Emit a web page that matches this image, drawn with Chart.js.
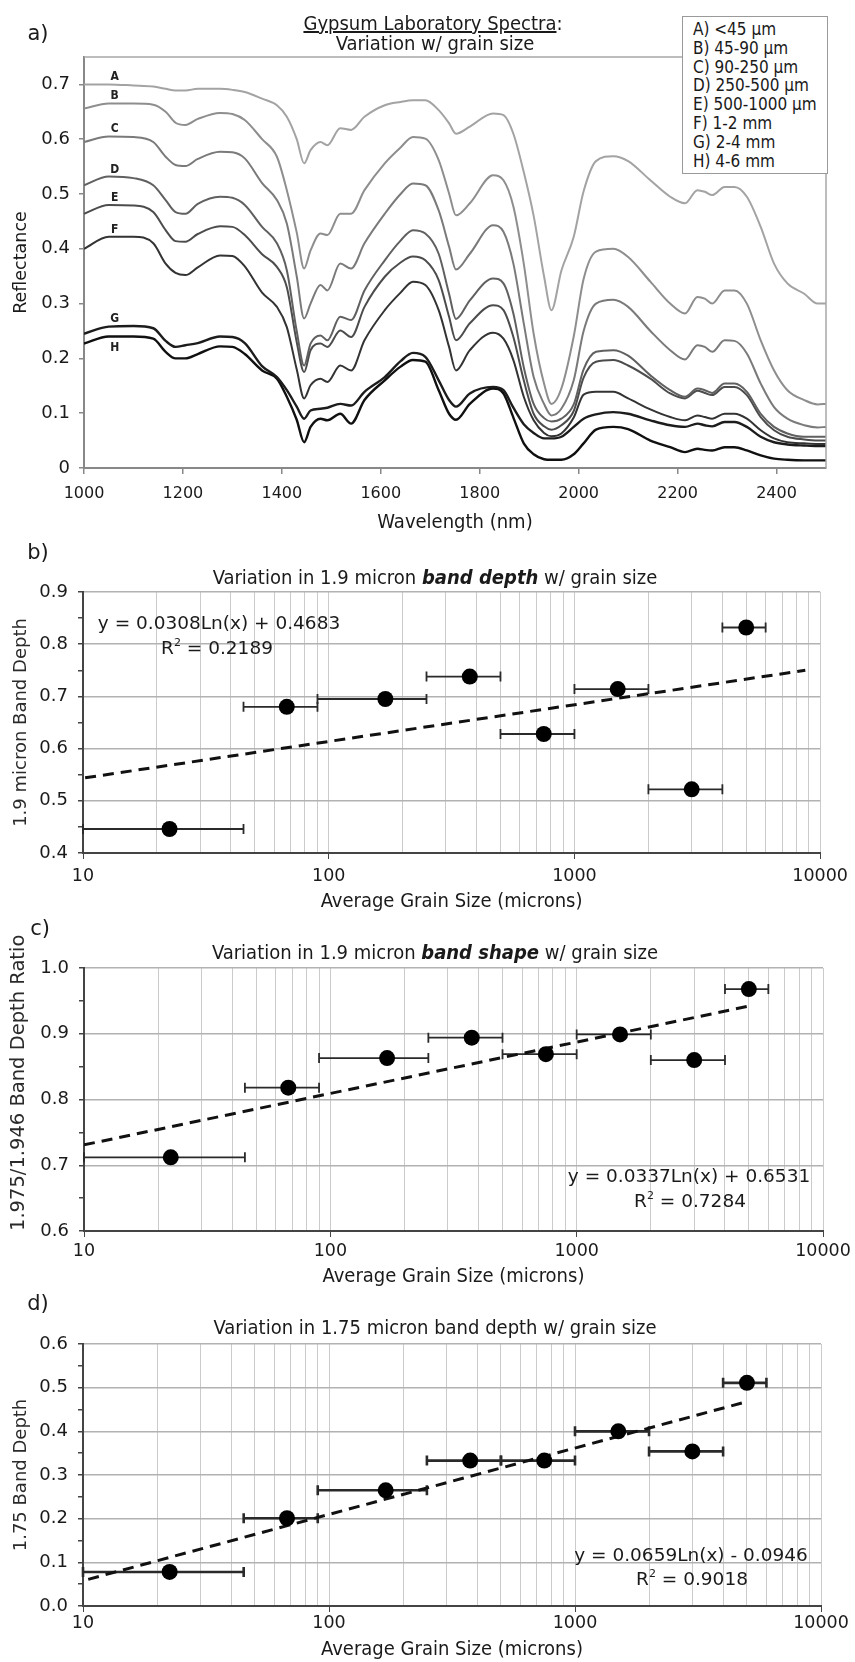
<!DOCTYPE html>
<html>
<head>
<meta charset="utf-8">
<script src="https://cdn.jsdelivr.net/npm/chart.js@4.4.1/dist/chart.umd.min.js"></script>
<style>
  body { margin: 0; background: #fff; }
  #page { position: relative; width: 855px; height: 1662px; overflow: hidden; }
  #page canvas { position: absolute; left: 0; }
  .t { position: absolute; transform: translate(-50%, -50%); white-space: nowrap; color: #1a1a1a;
       font-family: 'DejaVu Sans Condensed', 'DejaVu Sans', sans-serif; font-size: 20px; }
  .lbl { font-family: 'DejaVu Sans', sans-serif; font-size: 21px; }
  .eq { font-family: 'DejaVu Sans', sans-serif; font-size: 18.5px; }
  .eq sup { font-size: 11px; vertical-align: 8px; line-height: 0; }
  #legend { position: absolute; left: 682px; top: 16px; width: 134px; height: 153px; padding: 3px 0 0 10px;
            border: 1.5px solid #9a9a9a; background: #fff; font-family: 'DejaVu Sans Condensed', 'DejaVu Sans', sans-serif;
            font-size: 17px; line-height: 18.8px; color: #1a1a1a; }
</style>
</head>
<body>
<div id="page">
  <canvas id="chartA"></canvas>
  <canvas id="chartB"></canvas>
  <canvas id="chartC"></canvas>
  <canvas id="chartD"></canvas>

  <div class="t lbl" style="left:38px;top:33px">a)</div>
  <div class="t" style="left:433px;top:23px"><u>Gypsum Laboratory Spectra</u>:</div>
  <div class="t" style="left:435px;top:43px">Variation w/ grain size</div>
  <div id="legend"></div>

  <div class="t lbl" style="left:38px;top:552px">b)</div>
  <div class="t" style="left:435px;top:577px">Variation in 1.9 micron <b><i>band depth</i></b> w/ grain size</div>
  <div class="t eq" style="left:219px;top:622px">y = 0.0308Ln(x) + 0.4683</div>
  <div class="t eq" style="left:217px;top:647px">R<sup>2</sup> = 0.2189</div>

  <div class="t lbl" style="left:40px;top:928px">c)</div>
  <div class="t" style="left:435px;top:952px">Variation in 1.9 micron <b><i>band shape</i></b> w/ grain size</div>
  <div class="t eq" style="left:689px;top:1175px">y = 0.0337Ln(x) + 0.6531</div>
  <div class="t eq" style="left:690px;top:1200px">R<sup>2</sup> = 0.7284</div>

  <div class="t lbl" style="left:38px;top:1303px">d)</div>
  <div class="t" style="left:435px;top:1327px">Variation in 1.75 micron band depth w/ grain size</div>
  <div class="t eq" style="left:691px;top:1554px">y = 0.0659Ln(x) - 0.0946</div>
  <div class="t eq" style="left:692px;top:1578px">R<sup>2</sup> = 0.9018</div>
</div>

<script>
// ---- panel a: spectra ----
var wavelengths = [1000, 1050, 1100, 1140, 1165, 1185, 1205, 1230, 1275, 1300,
                   1325, 1360, 1390, 1410, 1430, 1445, 1458, 1478, 1492, 1518,
                   1540, 1567, 1608, 1640, 1665, 1690, 1717, 1738, 1752, 1780,
                   1827, 1848, 1868, 1889, 1909, 1930, 1945, 1965, 1990, 2010,
                   2035, 2070, 2100, 2145, 2185, 2215, 2240, 2255, 2270, 2295,
                   2315, 2340, 2368, 2395, 2422, 2456, 2483, 2500];
var curveA = [0.700, 0.700, 0.698, 0.696, 0.692, 0.689, 0.689, 0.692, 0.692, 0.690,
              0.686, 0.674, 0.662, 0.641, 0.600, 0.556, 0.580, 0.595, 0.589, 0.620,
              0.617, 0.641, 0.662, 0.668, 0.671, 0.671, 0.653, 0.629, 0.610, 0.623,
              0.647, 0.644, 0.610, 0.540, 0.460, 0.350, 0.288, 0.360, 0.422, 0.505,
              0.560, 0.569, 0.560, 0.525, 0.495, 0.483, 0.507, 0.504, 0.498, 0.513,
              0.513, 0.495, 0.440, 0.373, 0.337, 0.318, 0.300, 0.300];
var curveB = [0.656, 0.665, 0.665, 0.663, 0.650, 0.630, 0.626, 0.637, 0.648, 0.646,
              0.635, 0.600, 0.568, 0.507, 0.430, 0.364, 0.397, 0.428, 0.425, 0.464,
              0.464, 0.507, 0.556, 0.585, 0.604, 0.601, 0.562, 0.501, 0.461, 0.483,
              0.534, 0.525, 0.477, 0.373, 0.245, 0.154, 0.117, 0.145, 0.240, 0.345,
              0.395, 0.400, 0.385, 0.340, 0.300, 0.282, 0.312, 0.309, 0.300, 0.324,
              0.324, 0.300, 0.233, 0.178, 0.142, 0.124, 0.116, 0.117];
var curveC = [0.595, 0.605, 0.604, 0.595, 0.568, 0.553, 0.551, 0.564, 0.577, 0.576,
              0.565, 0.520, 0.489, 0.446, 0.350, 0.273, 0.300, 0.334, 0.324, 0.373,
              0.364, 0.410, 0.464, 0.500, 0.519, 0.516, 0.470, 0.404, 0.362, 0.391,
              0.443, 0.431, 0.373, 0.264, 0.166, 0.117, 0.096, 0.108, 0.160, 0.250,
              0.300, 0.307, 0.294, 0.250, 0.215, 0.198, 0.224, 0.221, 0.212, 0.233,
              0.232, 0.209, 0.154, 0.111, 0.090, 0.078, 0.074, 0.075];
var curveD = [0.516, 0.532, 0.529, 0.516, 0.489, 0.467, 0.464, 0.482, 0.495, 0.493,
              0.480, 0.440, 0.410, 0.361, 0.250, 0.187, 0.227, 0.242, 0.233, 0.276,
              0.270, 0.324, 0.379, 0.415, 0.434, 0.428, 0.391, 0.318, 0.272, 0.306,
              0.346, 0.337, 0.282, 0.184, 0.117, 0.091, 0.085, 0.090, 0.116, 0.180,
              0.212, 0.215, 0.205, 0.169, 0.142, 0.130, 0.145, 0.142, 0.137, 0.154,
              0.154, 0.139, 0.099, 0.075, 0.063, 0.057, 0.057, 0.057];
var curveE = [0.464, 0.480, 0.479, 0.467, 0.434, 0.414, 0.413, 0.427, 0.441, 0.440,
              0.425, 0.390, 0.367, 0.330, 0.230, 0.175, 0.215, 0.227, 0.221, 0.251,
              0.239, 0.294, 0.349, 0.375, 0.386, 0.379, 0.343, 0.276, 0.233, 0.264,
              0.297, 0.288, 0.239, 0.160, 0.099, 0.076, 0.070, 0.078, 0.104, 0.165,
              0.194, 0.197, 0.187, 0.163, 0.136, 0.127, 0.141, 0.137, 0.133, 0.148,
              0.148, 0.133, 0.093, 0.069, 0.057, 0.052, 0.050, 0.050];
var curveF = [0.400, 0.422, 0.422, 0.410, 0.373, 0.356, 0.352, 0.366, 0.388, 0.387,
              0.368, 0.320, 0.294, 0.257, 0.180, 0.127, 0.151, 0.163, 0.157, 0.187,
              0.178, 0.233, 0.288, 0.320, 0.340, 0.334, 0.288, 0.221, 0.178, 0.215,
              0.247, 0.236, 0.197, 0.130, 0.087, 0.064, 0.058, 0.063, 0.092, 0.134,
              0.139, 0.139, 0.127, 0.107, 0.093, 0.087, 0.096, 0.093, 0.090, 0.099,
              0.099, 0.090, 0.069, 0.054, 0.047, 0.045, 0.044, 0.044];
var curveG = [0.245, 0.258, 0.259, 0.255, 0.232, 0.221, 0.224, 0.228, 0.240, 0.239,
              0.228, 0.186, 0.166, 0.142, 0.112, 0.090, 0.105, 0.108, 0.110, 0.117,
              0.114, 0.139, 0.166, 0.195, 0.210, 0.203, 0.160, 0.124, 0.112, 0.136,
              0.148, 0.142, 0.110, 0.080, 0.064, 0.054, 0.054, 0.057, 0.075, 0.090,
              0.098, 0.102, 0.099, 0.087, 0.078, 0.075, 0.081, 0.078, 0.076, 0.084,
              0.084, 0.075, 0.057, 0.047, 0.043, 0.041, 0.040, 0.040];
var curveH = [0.227, 0.240, 0.240, 0.236, 0.212, 0.200, 0.200, 0.208, 0.222, 0.221,
              0.208, 0.178, 0.163, 0.130, 0.088, 0.047, 0.075, 0.090, 0.087, 0.099,
              0.081, 0.124, 0.160, 0.185, 0.197, 0.194, 0.142, 0.099, 0.088, 0.117,
              0.145, 0.136, 0.092, 0.045, 0.025, 0.016, 0.015, 0.015, 0.025, 0.045,
              0.070, 0.075, 0.071, 0.050, 0.038, 0.029, 0.035, 0.033, 0.032, 0.038,
              0.038, 0.032, 0.023, 0.017, 0.015, 0.014, 0.014, 0.014];
var curveNames = ['A', 'B', 'C', 'D', 'E', 'F', 'G', 'H'];
var legendLabels = ['A) <45 \u03bcm', 'B) 45-90 \u03bcm', 'C) 90-250 \u03bcm', 'D) 250-500 \u03bcm',
                    'E) 500-1000 \u03bcm', 'F) 1-2 mm', 'G) 2-4 mm', 'H) 4-6 mm'];
var xTicksA = [1000, 1200, 1400, 1600, 1800, 2000, 2200, 2400];
var yTicksA = [0, 0.1, 0.2, 0.3, 0.4, 0.5, 0.6, 0.7];

// ---- panels b-d: grain-size series ----
var grainSize = [22.5, 67.5, 170, 375, 750, 1500, 3000, 5000];
var grainLow  = [10, 45, 90, 250, 500, 1000, 2000, 4000];
var grainHigh = [45, 90, 250, 500, 1000, 2000, 4000, 6000];
var bandDepth19  = [0.446, 0.680, 0.695, 0.738, 0.628, 0.714, 0.522, 0.832];
var bandShape19  = [0.712, 0.818, 0.863, 0.894, 0.869, 0.899, 0.860, 0.968];
var bandDepth175 = [0.078, 0.201, 0.265, 0.333, 0.333, 0.400, 0.354, 0.511];
var trendB = [[10.2, 0.544], [8700, 0.750]];
var trendC = [[10, 0.731], [5000, 0.942]];
var trendD = [[10.5, 0.061], [5000, 0.468]];
var logGridTicks = [10, 20, 30, 40, 50, 60, 70, 80, 90,
                    100, 200, 300, 400, 500, 600, 700, 800, 900,
                    1000, 2000, 3000, 4000, 5000, 6000, 7000, 8000, 9000, 10000];
var logMajorTicks = [10, 100, 1000, 10000];
var yTicksB = [0.4, 0.45, 0.5, 0.55, 0.6, 0.65, 0.7, 0.75, 0.8, 0.85, 0.9];
var yTicksC = [0.6, 0.65, 0.7, 0.75, 0.8, 0.85, 0.9, 0.95, 1.0];
var yTicksD = [0, 0.05, 0.1, 0.15, 0.2, 0.25, 0.3, 0.35, 0.4, 0.45, 0.5, 0.55, 0.6];

var SANS = "'DejaVu Sans', Verdana, sans-serif";
var COND = "'DejaVu Sans Condensed', 'DejaVu Sans', sans-serif";
var INK = '#1a1a1a';

document.getElementById('legend').innerHTML = legendLabels.map(function (s) {
    return '<div>' + s.replace('<', '&lt;') + '</div>';
}).join('');

// frame on top/right of the plot area
var framePlugin = {
    id: 'frame',
    afterDatasetsDraw: function (chart, args, o) {
        var a = chart.chartArea, ctx = chart.ctx;
        ctx.save();
        ctx.strokeStyle = o.color || '#a0a0a0';
        ctx.lineWidth = o.width || 1.5;
        ctx.beginPath();
        ctx.moveTo(a.left, a.top);
        ctx.lineTo(a.right, a.top);
        ctx.lineTo(a.right, a.bottom);
        ctx.stroke();
        ctx.restore();
    }
};

// letters A-H next to the spectra
var curveLabelPlugin = {
    id: 'curveLabels',
    afterDatasetsDraw: function (chart, args, o) {
        var ctx = chart.ctx, xs = chart.scales.x;
        ctx.save();
        ctx.font = 'bold 12px ' + COND;
        ctx.fillStyle = '#222';
        ctx.textAlign = 'center';
        ctx.textBaseline = 'middle';
        chart.data.datasets.forEach(function (ds, i) {
            var pt = chart.getDatasetMeta(i).data[1];
            ctx.fillText(o.names[i], xs.getPixelForValue(o.at), pt.y + o.offsets[i]);
        });
        ctx.restore();
    }
};

// horizontal error bars with caps
var errorBarPlugin = {
    id: 'errorBars',
    beforeDatasetsDraw: function (chart, args, o) {
        var ctx = chart.ctx, xs = chart.scales.x, ys = chart.scales.y;
        ctx.save();
        ctx.strokeStyle = o.color;
        ctx.lineWidth = o.width;
        o.lo.forEach(function (lo, i) {
            var x1 = xs.getPixelForValue(lo), x2 = xs.getPixelForValue(o.hi[i]);
            var y = ys.getPixelForValue(o.y[i]);
            ctx.beginPath();
            ctx.moveTo(x1, y); ctx.lineTo(x2, y);
            ctx.moveTo(x1, y - 5); ctx.lineTo(x1, y + 5);
            ctx.moveTo(x2, y - 5); ctx.lineTo(x2, y + 5);
            ctx.stroke();
        });
        ctx.restore();
    }
};

function placeCanvas(id, box) {
    var c = document.getElementById(id);
    c.width = 855;
    c.height = box.height;
    c.style.top = box.top + 'px';
    return c;
}

function layoutFor(box) {
    return { padding: { left: 0, right: 855 - box.area.right, top: box.area.top - box.top, bottom: 0 } };
}

// ---------- panel a ----------
var boxA = { top: 0, height: 540, area: { left: 84, right: 826, top: 57, bottom: 468 } };
var curveColors = ['#a3a3a3', '#8e8e8e', '#7a7a7a', '#606060', '#4c4c4c', '#333333', '#1c1c1c', '#101010'];
var curves = [curveA, curveB, curveC, curveD, curveE, curveF, curveG, curveH];

new Chart(placeCanvas('chartA', boxA), {
    type: 'line',
    data: {
        datasets: curves.map(function (c, i) {
            return {
                label: curveNames[i],
                data: wavelengths.map(function (w, j) { return { x: w, y: c[j] }; }),
                borderColor: curveColors[i],
                borderWidth: i > 5 ? 2.4 : 2,
                pointRadius: 0,
                cubicInterpolationMode: 'monotone',
                fill: false
            };
        })
    },
    options: {
        responsive: false,
        animation: false,
        layout: layoutFor(boxA),
        plugins: {
            legend: { display: false },
            tooltip: { enabled: false },
            frame: { color: '#a8a8a8', width: 1.5 },
            curveLabels: { names: curveNames, at: 1062, offsets: [-8, -8, -8, -7, -7, -7, -8, 11] }
        },
        scales: {
            x: {
                type: 'linear', min: 1000, max: 2500,
                afterBuildTicks: function (s) { s.ticks = xTicksA.map(function (v) { return { value: v }; }); },
                afterFit: function (s) { s.height = boxA.top + boxA.height - boxA.area.bottom; },
                grid: { drawOnChartArea: false, tickLength: 6, tickColor: '#888', lineWidth: 1.5 },
                border: { color: '#888', width: 2 },
                ticks: { color: INK, font: { family: SANS, size: 16 }, padding: 10, maxRotation: 0,
                         callback: function (v) { return String(v); } },
                title: { display: true, text: 'Wavelength (nm)', color: INK, font: { family: COND, size: 20 },
                         padding: { top: 0, bottom: 5 } }
            },
            y: {
                min: 0, max: 0.75,
                afterBuildTicks: function (s) { s.ticks = yTicksA.map(function (v) { return { value: v }; }); },
                afterFit: function (s) { s.width = boxA.area.left; },
                grid: { drawOnChartArea: false, tickLength: 5, tickColor: '#888', lineWidth: 1.5 },
                border: { color: '#888', width: 2 },
                ticks: { color: INK, font: { family: SANS, size: 18 }, padding: 9,
                         callback: function (v) { return v === 0 ? '0' : v.toFixed(1); } },
                title: { display: true, text: 'Reflectance', color: INK, font: { family: SANS, size: 17.5 },
                         padding: { top: 11, bottom: 0 } }
            }
        }
    },
    plugins: [framePlugin, curveLabelPlugin]
});

// ---------- panels b-d ----------
function isMajorY(v) { return Math.abs(Math.round(v * 10) - v * 10) < 1e-6; }

function grainChart(id, box, yVals, trend, yTicks, yTitle, barWidth, tickPad) {
    return new Chart(placeCanvas(id, box), {
        type: 'scatter',
        data: {
            datasets: [{
                data: grainSize.map(function (g, i) { return { x: g, y: yVals[i] }; }),
                backgroundColor: '#000',
                borderWidth: 0,
                pointRadius: 8
            }, {
                data: trend.map(function (p) { return { x: p[0], y: p[1] }; }),
                showLine: true,
                borderColor: '#111',
                borderWidth: 3,
                borderDash: [11, 7],
                pointRadius: 0
            }]
        },
        options: {
            responsive: false,
            animation: false,
            layout: layoutFor(box),
            plugins: {
                legend: { display: false },
                tooltip: { enabled: false },
                errorBars: { lo: grainLow, hi: grainHigh, y: yVals, color: '#2a2a2a', width: barWidth }
            },
            scales: {
                x: {
                    type: 'logarithmic', min: 10, max: 10000,
                    afterBuildTicks: function (s) { s.ticks = logGridTicks.map(function (v) { return { value: v }; }); },
                    afterFit: function (s) { s.height = box.top + box.height - box.area.bottom; },
                    grid: {
                        color: '#cbcbcb', lineWidth: 1, tickLength: 6,
                        tickColor: function (c) { return logMajorTicks.indexOf(c.tick.value) >= 0 ? '#444' : 'rgba(0,0,0,0)'; }
                    },
                    border: { color: '#444', width: 2 },
                    ticks: {
                        color: INK, font: { family: SANS, size: 17.5 }, padding: tickPad, autoSkip: false, maxRotation: 0,
                        callback: function (v) { return logMajorTicks.indexOf(v) >= 0 ? String(v) : ''; }
                    },
                    title: { display: true, text: 'Average Grain Size (microns)', color: INK,
                             font: { family: COND, size: 20 }, padding: { top: 0, bottom: box.titlePad } }
                },
                y: {
                    min: yTicks[0], max: yTicks[yTicks.length - 1],
                    afterBuildTicks: function (s) { s.ticks = yTicks.map(function (v) { return { value: v }; }); },
                    afterFit: function (s) { s.width = box.area.left; },
                    grid: {
                        lineWidth: 1.5, tickLength: 5, tickColor: '#444',
                        color: function (c) { return c.tick && isMajorY(c.tick.value) ? '#b2b2b2' : 'rgba(0,0,0,0)'; }
                    },
                    border: { color: '#444', width: 2 },
                    ticks: {
                        color: INK, font: { family: SANS, size: 18 }, padding: 10, autoSkip: false,
                        callback: function (v) { return isMajorY(v) ? v.toFixed(1) : ''; }
                    },
                    title: { display: true, text: yTitle, color: '#2a2a2a', align: box.yTitleAlign,
                             font: { family: SANS, size: box.yTitleSize },
                             padding: { top: box.yTitleX - box.yTitleSize * 0.6, bottom: 0 } }
                }
            }
        },
        plugins: [errorBarPlugin]
    });
}

var boxB = { top: 540, height: 375, titlePad: 1, yTitleSize: 18, yTitleAlign: 'center', yTitleX: 21,
             area: { left: 83, right: 821, top: 592, bottom: 853 } };
var boxC = { top: 915, height: 375, titlePad: 1, yTitleSize: 19.5, yTitleAlign: 'start', yTitleX: 19,
             area: { left: 84, right: 823, top: 968, bottom: 1231 } };
var boxD = { top: 1290, height: 372, titlePad: 0, yTitleSize: 18, yTitleAlign: 'center', yTitleX: 21,
             area: { left: 83, right: 821, top: 1344, bottom: 1606 } };

grainChart('chartB', boxB, bandDepth19, trendB, yTicksB, '1.9 micron Band Depth', 1.8, 7);
grainChart('chartC', boxC, bandShape19, trendC, yTicksC, '1.975/1.946 Band Depth Ratio', 1.8, 4);
grainChart('chartD', boxD, bandDepth175, trendD, yTicksD, '1.75 Band Depth', 2.6, 1);
</script>
</body>
</html>
